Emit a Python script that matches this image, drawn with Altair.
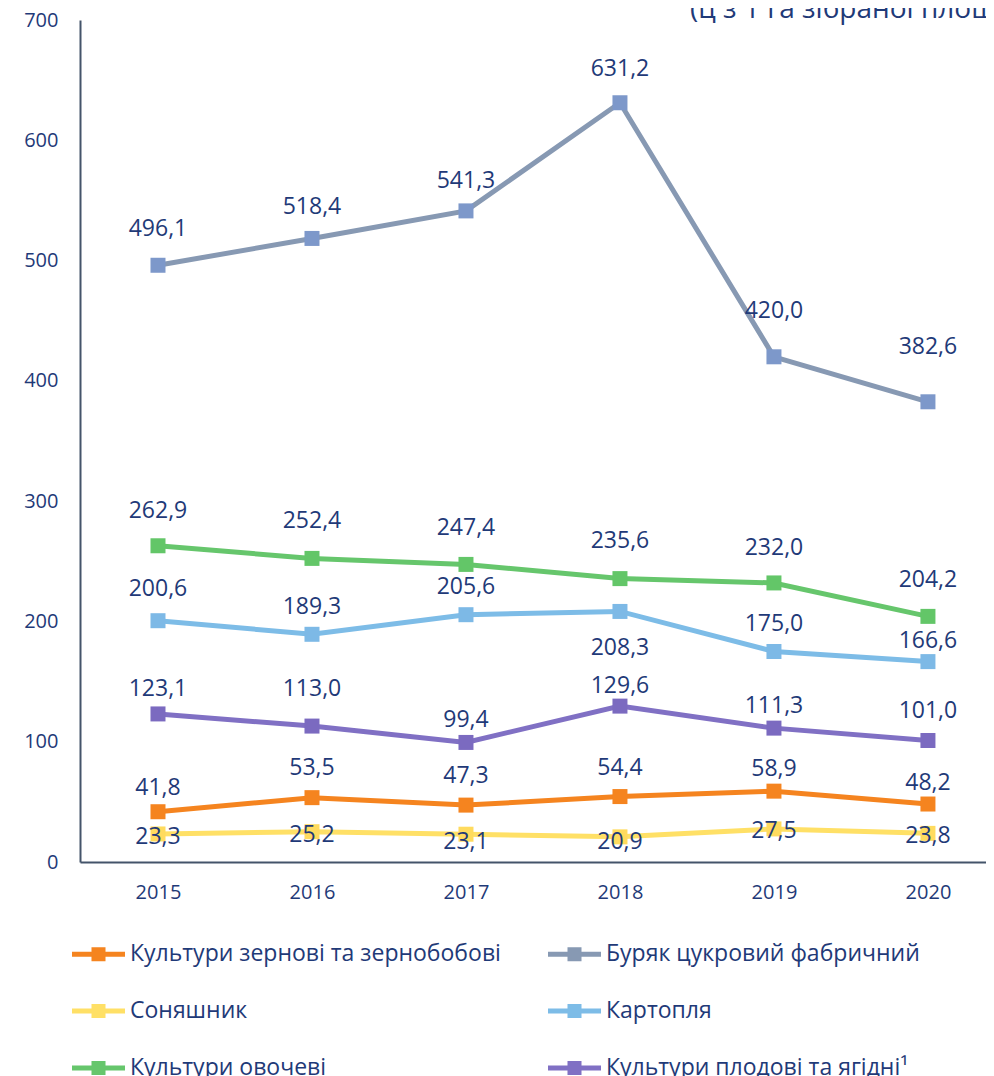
import altair as alt
import pandas as pd

# ---- data ----
years = [2015, 2016, 2017, 2018, 2019, 2020]
series = [
    "Культури зернові та зернобобові",
    "Буряк цукровий фабричний",
    "Соняшник",
    "Картопля",
    "Культури овочеві",
    "Культури плодові та ягідні¹",
]
grain = [41.8, 53.5, 47.3, 54.4, 58.9, 48.2]
beet = [496.1, 518.4, 541.3, 631.2, 420.0, 382.6]
sunflower = [23.3, 25.2, 23.1, 20.9, 27.5, 23.8]
potato = [200.6, 189.3, 205.6, 208.3, 175.0, 166.6]
vegetables = [262.9, 252.4, 247.4, 235.6, 232.0, 204.2]
fruit = [123.1, 113.0, 99.4, 129.6, 111.3, 101.0]
subtitle = "(ц з 1 га зібраної площі)"

# ---- style ----
FONT = "Open Sans"
TEXT = "#1F3A78"
AXIS = "#44546A"
line_colors = ["#F5841F", "#8799B3", "#FFE066", "#7DBCE7", "#66C66C", "#8070C4"]
marker_colors = ["#F5841F", "#7D98CA", "#FFDB5E", "#7DB9E6", "#63C668", "#7B6AC0"]
# legend is laid out column by column: order entries so rows read pairwise
legend_order = [series[0], series[2], series[4], series[1], series[3], series[5]]
# label offsets (px, relative to point centre)
label_dy = {
    series[0]: [-24, -30, -29, -29, -22, -21],
    series[1]: [-36, -31, -30, -34, -46, -55],
    series[2]: [3, 3, 8, 5, 2, 3],
    series[3]: [-32, -27, -28, 37, -28, -21],
    series[4]: [-35, -37, -36, -38, -35, -36],
    series[5]: [-25, -37, -22, -20, -22, -30],
}

values = [grain, beet, sunflower, potato, vegetables, fruit]
rows = []
for s, vals in zip(series, values):
    for y, v, d in zip(years, vals, label_dy[s]):
        rows.append({"year": y, "series": s, "value": v,
                     "label": f"{v:.1f}".replace(".", ","), "dy": d})
df = pd.DataFrame(rows)

W, H = 906, 842
x_enc = alt.X(
    "year:Q",
    scale=alt.Scale(domain=[2014.4935, 2020.377], nice=False, zero=False),
    axis=alt.Axis(values=years, format="d", title=None, grid=False, ticks=False,
                  labelPadding=20, labelFontSize=20, labelFont=FONT,
                  labelColor=TEXT, domainColor=AXIS, domainWidth=2),
)
y_enc = alt.Y(
    "value:Q",
    scale=alt.Scale(domain=[0, 700], nice=False),
    axis=alt.Axis(values=list(range(0, 701, 100)), title=None, grid=False,
                  ticks=False, labelPadding=22, labelFontSize=20, labelFont=FONT,
                  labelColor=TEXT, domainColor=AXIS, domainWidth=2),
)

SYMBOL = "M-1,0H1M-0.17,-0.17H0.17V0.17H-0.17ZM-0.06,-0.06H0.06V0.06H-0.06Z"

base = alt.Chart(df)
lines = base.mark_line(strokeWidth=5).encode(
    x=x_enc,
    y=y_enc,
    color=alt.Color(
        "series:N",
        scale=alt.Scale(domain=series, range=line_colors),
        legend=alt.Legend(
            title=None, orient="none", legendX=-10.5, legendY=905,
            columns=2, columnPadding=36, rowPadding=13, padding=0,
            values=legend_order,
            symbolType=SYMBOL, symbolSize=2809, symbolStrokeWidth=5,
            labelFont=FONT, labelFontSize=23, labelColor=TEXT,
            labelOffset=2.5, labelLimit=800,
        ),
    ),
)
points = base.mark_point(shape="square", filled=True, size=225, opacity=1).encode(
    x="year:Q",
    y="value:Q",
    fill=alt.Fill("series:N", scale=alt.Scale(domain=series, range=marker_colors),
                  legend=None),
)

label_layers = []
for d in sorted(df["dy"].unique()):
    label_layers.append(
        base.transform_filter(alt.datum.dy == int(d))
        .mark_text(font=FONT, fontSize=23, color=TEXT, baseline="middle",
                   align="center", dy=int(d))
        .encode(x="year:Q", y="value:Q", text="label:N")
    )

title = alt.Chart(pd.DataFrame({"t": [subtitle]})).mark_text(
    font=FONT, fontSize=28, color=TEXT, align="left", baseline="alphabetic"
).encode(x=alt.value(610), y=alt.value(-2), text="t:N")

chart = alt.layer(lines, points, *label_layers, title).properties(
    width=W, height=H,
    autosize=alt.AutoSizeParams(type="none"),
    padding={"left": 72, "top": 12, "right": 0, "bottom": 214},
).configure_view(stroke=None)

chart.save("out.html", embed_options={"renderer": "svg", "actions": False})
